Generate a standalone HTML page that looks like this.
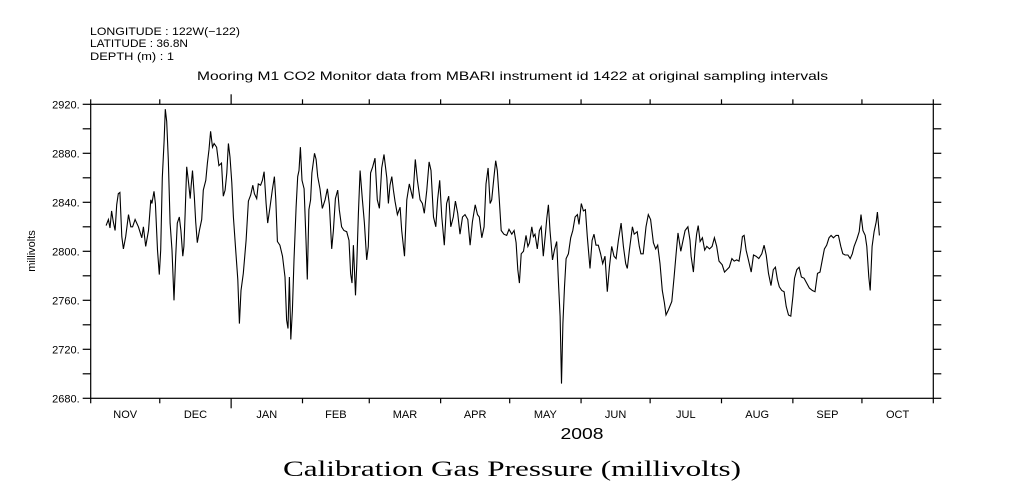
<!DOCTYPE html>
<html><head><meta charset="utf-8"><style>
html,body{margin:0;padding:0;background:#fff}
svg{display:block}
text{font-family:"Liberation Sans",sans-serif;fill:#000}
</style></head><body>
<svg id="chart" width="1009" height="504" viewBox="0 0 1009 504" xmlns="http://www.w3.org/2000/svg">
<text x="90" y="35" font-size="11" textLength="150" lengthAdjust="spacingAndGlyphs">LONGITUDE : 122W(−122)</text>
<text x="90" y="47" font-size="11" textLength="98" lengthAdjust="spacingAndGlyphs">LATITUDE : 36.8N</text>
<text x="90" y="60" font-size="11" textLength="84" lengthAdjust="spacingAndGlyphs">DEPTH (m) : 1</text>
<text x="197" y="80" font-size="12" textLength="631" lengthAdjust="spacingAndGlyphs">Mooring M1 CO2 Monitor data from MBARI instrument id 1422 at original sampling intervals</text>
<text x="0" y="0" font-size="11" text-anchor="middle" transform="translate(35,251) rotate(-90)">millivolts</text>
<text x="582" y="439" font-size="16" text-anchor="middle" textLength="43" lengthAdjust="spacingAndGlyphs">2008</text>
<text x="512" y="476" font-size="22" text-anchor="middle" style="font-family:'Liberation Serif',serif" textLength="458" lengthAdjust="spacingAndGlyphs">Calibration Gas Pressure (millivolts)</text>
<g id="axes"></g>
<g id="series"></g>
</svg>
<script>
const yTicks = [2680,2700,2720,2740,2760,2780,2800,2820,2840,2860,2880,2900,2920];
const yTickLabels = ["2680.","","2720.","","2760.","","2800.","","2840.","","2880.","","2920."];
const monthStarts = [0,30,61,92,121,152,182,213,243,274,305,335,366];
const monthLabels = ["NOV","DEC","JAN","FEB","MAR","APR","MAY","JUN","JUL","AUG","SEP","OCT"];
const days = [6.7,7.7,8.4,9.1,9.8,10.6,11.3,12.0,12.7,13.5,14.2,15.2,16.4,17.4,18.2,19.3,20.7,22.2,22.9,23.9,25.1,26.1,26.6,27.5,28.1,29.0,29.8,30.4,31.1,31.9,32.4,33.0,33.7,34.5,35.3,36.2,36.9,37.6,38.5,39.2,40.0,40.5,41.0,41.7,42.4,43.2,43.6,44.2,45.0,45.6,46.3,47.2,48.2,48.9,50.0,50.7,51.4,52.1,52.9,53.6,54.7,55.7,56.8,57.6,58.4,59.1,59.8,60.5,61.3,62.0,63.0,63.9,64.6,65.3,66.3,67.5,68.5,69.5,70.4,71.1,72.1,72.8,73.8,74.6,75.3,76.2,76.9,77.9,78.9,79.8,80.4,81.1,82.2,83.3,84.4,85.1,85.7,86.3,86.9,87.6,88.3,89.2,89.9,90.5,91.1,91.8,92.7,93.5,94.1,94.8,95.5,96.1,97.2,97.9,98.6,99.6,100.6,101.8,102.8,103.7,104.7,105.4,106.3,107.3,108.0,109.0,110.0,111.2,112.2,112.9,113.5,114.1,115.0,115.6,116.3,117.0,118.0,118.9,119.9,120.6,121.6,122.5,123.5,124.5,125.4,126.4,127.4,128.6,129.3,130.0,130.8,131.5,132.2,133.2,134.4,
135.1,136.3,137.3,138.4,139.9,141.0,141.9,143.1,144.1,144.9,146.0,147.0,147.8,148.9,149.9,150.7,151.6,152.5,153.6,154.6,155.5,156.4,157.5,158.4,159.4,160.4,161.5,162.6,163.8,164.8,165.8,167.0,168.0,168.8,169.9,170.9,171.7,172.6,173.5,174.2,175.2,175.9,176.6,177.5,178.3,179.5,180.7,181.7,182.9,183.9,184.8,185.5,186.2,187.0,188.0,189.1,189.9,190.6,191.6,192.3,193.0,194.0,194.9,195.7,196.6,197.5,198.1,198.8,199.5,200.6,201.4,202.4,203.2,203.9,204.5,205.1,205.8,206.5,207.5,208.5,209.4,210.4,211.4,212.1,213.1,214.0,214.9,215.7,216.9,217.8,218.6,219.5,220.5,221.5,222.4,223.4,224.4,225.3,226.3,227.3,228.2,229.2,230.4,231.4,232.4,233.1,234.0,235.3,236.1,237.4,238.3,239.0,240.0,241.2,242.2,243.2,244.4,245.4,246.3,247.3,248.3,249.2,249.9,250.9,252.4,253.4,254.3,255.1,256.3,257.2,258.2,259.4,260.3,
260.8,261.8,262.5,263.2,263.9,264.7,265.7,266.7,267.6,268.8,269.9,270.9,271.9,272.9,274.3,275.3,276.3,277.4,278.5,279.5,280.6,281.6,282.4,283.1,283.8,284.7,285.7,286.9,287.9,289.0,290.2,291.5,292.5,293.4,294.4,295.5,296.5,297.4,298.3,299.1,300.2,301.2,302.1,303.1,304.1,305.0,305.7,306.7,307.7,308.7,309.9,311.0,312.2,313.5,314.6,315.7,316.8,317.8,318.7,319.7,320.7,321.6,322.6,323.8,324.8,325.8,326.7,327.7,328.9,329.9,330.8,331.6,332.8,333.8,334.6,335.4,336.4,337.1,338.0,338.6,339.4,340.3,341.2,341.7,342.6];
const millivolts = [2821,2826,2819,2833,2824,2817,2838,2847,2848,2812,2802,2812,2830,2820,2820,2826,2820,2811,2820,2804,2817,2842,2839,2849,2839,2801,2781,2801,2860,2890,2916,2906,2875,2823,2801,2760,2796,2823,2828,2817,2796,2804,2830,2869,2858,2843,2853,2866,2845,2824,2807,2817,2826,2850,2858,2872,2883,2898,2885,2888,2885,2870,2872,2845,2850,2864,2888,2877,2856,2828,2801,2777,2741,2768,2782,2809,2841,2846,2854,2847,2843,2855,2854,2858,2865,2839,2823,2836,2850,2861,2842,2808,2805,2796,2779,2744,2737,2779,2728,2752,2793,2836,2861,2866,2885,2858,2851,2809,2777,2834,2842,2864,2880,2875,2861,2851,2835,2842,2851,2838,2802,2817,2843,2850,2834,2820,2817,2816,2809,2782,2774,2805,2764,2790,2831,2866,2842,2823,2793,2804,2864,2869,2876,2842,2835,2868,2879,2860,2839,2854,2861,2850,2841,2830,2836,
2817,2796,2842,2855,2843,2875,2858,2842,2839,2831,2850,2873,2866,2828,2820,2842,2858,2828,2805,2839,2845,2820,2828,2841,2831,2814,2828,2830,2826,2805,2824,2838,2830,2828,2811,2820,2855,2868,2839,2842,2861,2874,2866,2842,2817,2814,2813,2818,2814,2817,2807,2785,2774,2798,2800,2813,2804,2807,2820,2812,2814,2802,2817,2820,2796,2814,2827,2838,2817,2793,2801,2808,2774,2747,2692,2741,2771,2794,2798,2811,2817,2828,2830,2822,2839,2833,2834,2812,2786,2809,2814,2805,2805,2798,2790,2796,2767,2787,2804,2796,2794,2809,2823,2804,2790,2786,2801,2820,2814,2816,2804,2798,2798,2820,2830,2826,2807,2802,2805,2790,2768,2758,2748,2752,2759,2779,2798,2815,2800,2808,2817,2820,2809,
2796,2783,2801,2814,2821,2808,2811,2801,2804,2802,2804,2811,2804,2792,2789,2783,2785,2787,2794,2792,2793,2792,2801,2812,2813,2801,2793,2783,2797,2796,2794,2798,2805,2797,2782,2772,2785,2787,2777,2771,2768,2767,2755,2748,2747,2763,2778,2785,2787,2779,2778,2774,2770,2768,2767,2782,2783,2793,2802,2805,2811,2813,2811,2813,2813,2804,2798,2797,2797,2794,2798,2804,2810,2816,2830,2817,2813,2804,2779,2768,2804,2816,2824,2832,2813];

const NS="http://www.w3.org/2000/svg";
const X0=90.7, X1=933.3, Y0=398.3, Y1=104.3;
const D0=0, D1=366, V0=2680, V1=2920;
function xScale(d){return X0+(d-D0)/(D1-D0)*(X1-X0);}
function yScale(v){return Y0-(v-V0)/(V1-V0)*(Y0-Y1);}
function mk(tag,attrs,parent){const e=document.createElementNS(NS,tag);for(const k in attrs)e.setAttribute(k,attrs[k]);parent.appendChild(e);return e;}
const axes=document.getElementById('axes');
const frame=mk('rect',{x:X0,y:Y1,width:X1-X0,height:Y0-Y1,fill:'none',stroke:'#000','stroke-width':1.2},axes);


yTicks.forEach((v,i)=>{
  const y=yScale(v);
  const t=mk('line',{x1:X0-8,x2:X0,y1:y,y2:y,stroke:'#000','stroke-width':1.2},axes);
  
  
  const r=mk('line',{x1:X1,x2:X1+8,y1:y,y2:y,stroke:'#000','stroke-width':1.2},axes);
  
  
  if(yTickLabels[i]){
    const tx=mk('text',{x:X0-11,y:y+4,'font-size':11,'text-anchor':'end'},axes);
    tx.textContent=yTickLabels[i];
    
    
  }
});
monthStarts.forEach((d,i)=>{
  const x=xScale(d);
  const len=(i===2)?10:5;
  const b=mk('line',{x1:x,x2:x,y1:Y0,y2:Y0+len,stroke:'#000','stroke-width':1.2},axes);
  
  
  const t=mk('line',{x1:x,x2:x,y1:Y1-len,y2:Y1,stroke:'#000','stroke-width':1.2},axes);
  
  
  if(i<monthLabels.length){
    const xm=(xScale(d)+xScale(monthStarts[i+1]))/2;
    const tx=mk('text',{x:xm,y:418,'font-size':11,'text-anchor':'middle'},axes);
    tx.textContent=monthLabels[i];
    
    
  }
});
const pts=days.map((d,i)=>xScale(d).toFixed(1)+','+yScale(millivolts[i]).toFixed(1)).join(' ');
const line=mk('polyline',{points:pts,fill:'none',stroke:'#000','stroke-width':1.1,'stroke-linejoin':'miter'},document.getElementById('series'));


</script>
</body></html>
